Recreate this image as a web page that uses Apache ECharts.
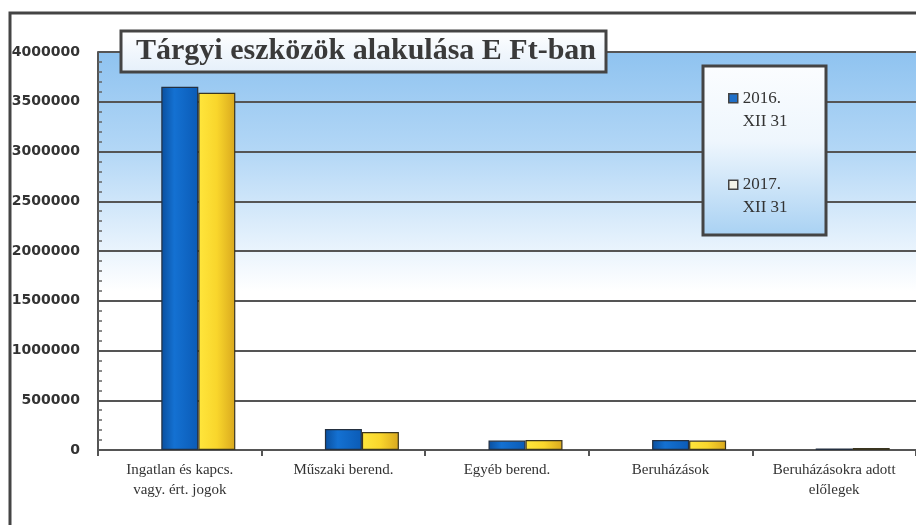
<!DOCTYPE html>
<html>
<head>
<meta charset="utf-8">
<script src="https://cdn.jsdelivr.net/npm/echarts@6/dist/echarts.min.js"></script>
<style>
  html, body { margin: 0; padding: 0; background: #fff; }
  #container { width: 916px; height: 525px; }
</style>
</head>
<body>
<div id="container"></div>
<script>
var categories = ['Ingatlan és kapcs.\nvagy. ért. jogok', 'Műszaki berend.', 'Egyéb berend.', 'Beruházások', 'Beruházásokra adott\nelőlegek'];
var seriesNames = ['2016.\nXII 31', '2017.\nXII 31'];
var values2016 = [3650000, 211000, 95000, 100000, 15000];
var values2017 = [3590000, 180000, 100000, 95000, 20000];

var echartBar = echarts.init(document.getElementById('container'));

var blueFill = new echarts.graphic.LinearGradient(0, 0, 1, 0, [
  {offset: 0, color: '#0a4f9e'},
  {offset: 0.35, color: '#1471d2'},
  {offset: 1, color: '#0b5bb6'}
]);
var yellowFill = new echarts.graphic.LinearGradient(0, 0, 1, 0, [
  {offset: 0, color: '#ffe63c'},
  {offset: 0.5, color: '#f9d62c'},
  {offset: 1, color: '#d9a81e'}
]);
// square at the top, tall bounds so it lines up with the first text line
var legendIcon = 'path://M0,7L9,7L9,16L0,16Z M0,0L0,0 M9,46L9,46';

var option = {
  animation: false,
  title: {
    text: 'Tárgyi eszközök alakulása E Ft-ban',
    left: 131,
    top: 31,
    z: 20,
    textStyle: {
      fontFamily: 'Liberation Serif',
      fontWeight: 'bold',
      fontSize: 30,
      color: '#3a3a3a'
    }
  },
  graphic: [
    {
      type: 'rect', z: -10, silent: true,
      shape: {x: 10, y: 13, width: 930, height: 540},
      style: {fill: null, stroke: '#444', lineWidth: 3}
    },
    {
      type: 'rect', z: 15, silent: true,
      shape: {x: 121, y: 31, width: 485, height: 41},
      style: {
        fill: new echarts.graphic.LinearGradient(0, 0, 0, 1, [
          {offset: 0, color: '#ffffff'},
          {offset: 1, color: '#e4effa'}
        ]),
        stroke: '#444', lineWidth: 3
      }
    },
    {
      type: 'rect', z: 15, silent: true,
      shape: {x: 703, y: 66, width: 123, height: 169},
      style: {
        fill: new echarts.graphic.LinearGradient(0, 0, 0, 1, [
          {offset: 0, color: '#fbfdff'},
          {offset: 0.45, color: '#eef6fd'},
          {offset: 1, color: '#a8d1f3'}
        ]),
        stroke: '#444', lineWidth: 3
      }
    }
  ],
  legend: {
    data: [
      {name: seriesNames[0], itemStyle: {color: '#1f6fc8'}},
      {name: seriesNames[1], itemStyle: {color: '#f3f3e8'}}
    ],
    orient: 'vertical',
    left: 728,
    top: 86,
    itemGap: 39,
    itemWidth: 9,
    itemHeight: 46,
    icon: legendIcon,
    z: 20,
    padding: 0,
    itemStyle: {borderColor: '#444', borderWidth: 1.5},
    textStyle: {
      fontFamily: 'Liberation Serif',
      fontSize: 17,
      lineHeight: 23,
      color: '#333'
    }
  },
  grid: {
    left: 98,
    top: 52,
    width: 820,
    bottom: 75,
    show: true,
    borderWidth: 0,
    backgroundColor: new echarts.graphic.LinearGradient(0, 0, 0, 1, [
      {offset: 0, color: '#8fc3f0'},
      {offset: 0.25, color: '#b3d7f6'},
      {offset: 0.5, color: '#eaf4fd'},
      {offset: 0.6, color: '#ffffff'},
      {offset: 1, color: '#ffffff'}
    ])
  },
  xAxis: {
    type: 'category',
    data: categories,
    axisLine: {lineStyle: {color: '#555', width: 2}},
    axisTick: {show: true, length: 6, lineStyle: {color: '#555', width: 2}},
    axisLabel: {
      interval: 0,
      margin: 10,
      fontFamily: 'Liberation Serif',
      fontSize: 15,
      lineHeight: 20,
      color: '#333'
    }
  },
  yAxis: {
    type: 'value',
    min: 0,
    max: 4000000,
    interval: 500000,
    axisLine: {show: true, lineStyle: {color: '#555', width: 2}},
    axisTick: {show: true, inside: true, length: 5, lineStyle: {color: '#555', width: 2}},
    minorTick: {show: true, splitNumber: 5, length: 4, lineStyle: {color: '#666', width: 1.5}},
    splitLine: {show: true, lineStyle: {color: '#555', width: 2}},
    axisLabel: {
      margin: 18,
      fontFamily: 'DejaVu Sans',
      fontWeight: 'bold',
      fontSize: 14,
      color: '#333',
      formatter: function (v) { return String(v); }
    }
  },
  series: [
    {
      // empty slot: the bars sit right of the category centre in the original
      name: 'spacer',
      type: 'bar',
      barWidth: 37,
      barGap: '0%',
      data: []
    },
    {
      name: seriesNames[0],
      type: 'bar',
      barWidth: 37,
      barGap: '0%',
      data: values2016,
      itemStyle: {color: blueFill, borderColor: '#243040', borderWidth: 1.2}
    },
    {
      name: seriesNames[1],
      type: 'bar',
      barWidth: 37,
      barGap: '0%',
      data: values2017,
      itemStyle: {color: yellowFill, borderColor: '#3a3520', borderWidth: 1.2}
    }
  ]
};
echartBar.setOption(option);
</script>
</body>
</html>
